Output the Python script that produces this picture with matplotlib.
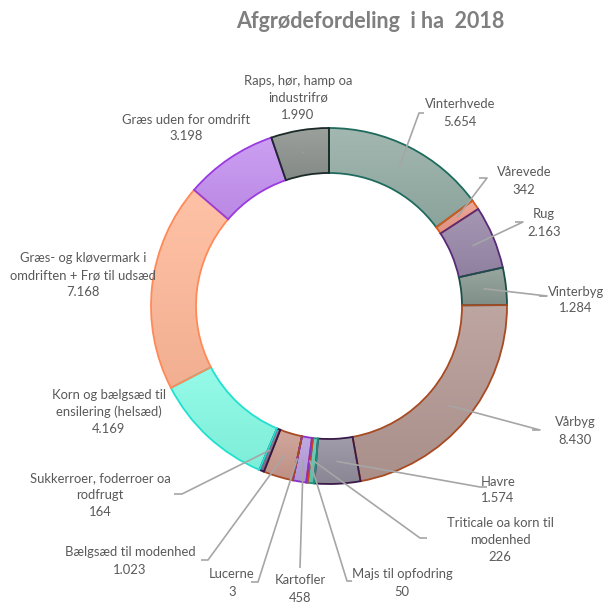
import matplotlib
matplotlib.use("Agg")
import matplotlib.pyplot as plt
import matplotlib.colors as mcolors
import numpy as np

title = "Afgrødefordeling  i ha  2018"
categories = [
    "Vinterhvede", "Vårevede", "Rug", "Vinterbyg", "Vårbyg", "Havre",
    "Triticale oa korn til\nmodenhed", "Majs til opfodring", "Kartofler",
    "Lucerne", "Bælgsæd til modenhed", "Sukkerroer, foderroer oa\nrodfrugt",
    "Korn og bælgsæd til\nensilering (helsæd)",
    "Græs- og kløvermark i\nomdriften + Frø til udsæd",
    "Græs uden for omdrift", "Raps, hør, hamp oa\nindustrifrø",
]
values = [5654, 342, 2163, 1284, 8430, 1574, 226, 50, 458, 3, 1023, 164,
          4169, 7168, 3198, 1990]
value_labels = ["5.654", "342", "2.163", "1.284", "8.430", "1.574", "226", "50",
                "458", "3", "1.023", "164", "4.169", "7.168", "3.198", "1.990"]

fills = ["#93aca4", "#eb9a88", "#9787a8", "#879890", "#b39792", "#918d9c",
         "#62c6b0", "#e8703a", "#b59cdc", "#c0a0e0", "#c9988c", "#7e7090",
         "#84fae4", "#ffb898", "#c490f0", "#8b918c"]
edges = ["#1e6b5e", "#d85a1c", "#5a2a78", "#1e4e48", "#a84a22", "#3a1a48",
         "#1e8e7a", "#d84010", "#8a30c8", "#8a30c8", "#a84a22", "#301848",
         "#20e0d0", "#ff8a58", "#9a3ae0", "#1a2a28"]

# label layout (pixel coordinates, y from top): text centre, leader-end, hook length
label_pos = [
    (460, 113, (419, 113), -5), (524, 181, (487, 178), 8), (544, 223, (523, 222), 8),
    (576, 300, (547, 296), 8), (575, 431, (540, 430), 8), (498, 490, (480, 487), -7),
    (500, 540, (420, 538), -7), (402, 583, (347, 581), -5), (300, 589, (300, 568), 0),
    (232, 583, (258, 582), 7), (130, 561, (208, 560), 7), (100, 495, (182, 494), 8),
    (109, 412, None, 0), (83, 275, None, 0), (186, 128, None, 0),
    (298, 98, (303, 152), 0),
]

W, H = 604, 602
fig = plt.figure(figsize=(W / 100, H / 100), dpi=100)
ax = fig.add_axes([0, 0, 1, 1])

cx, cy, R, ring = 329, H - 306, 178, 45
wedges, _ = ax.pie(values, startangle=90, counterclock=False, center=(cx, cy),
                   radius=R, colors=fills,
                   wedgeprops=dict(width=ring, linewidth=1.3), frame=True)
ax.set_xlim(0, W)
ax.set_ylim(0, H)
ax.set_aspect("equal")
ax.axis("off")

for w, fc, ec in zip(wedges, fills, edges):
    w.set_edgecolor(ec)
    w.set_zorder(3)
    bb = w.get_path().get_extents()
    rgb = np.array(mcolors.to_rgb(fc))
    light = rgb + (1 - rgb) * 0.14
    dark = rgb * 0.95
    t = np.linspace(0, 1, 64)[:, None]
    grad = light[None, :] * (1 - t) + dark[None, :] * t
    img = ax.imshow(grad[:, None, :], extent=(bb.x0, bb.x1, bb.y0, bb.y1),
                    origin="upper", aspect="auto", zorder=2, interpolation="bilinear")
    img.set_clip_path(w)
    w.set_facecolor("none")
ax.set_xlim(0, W)
ax.set_ylim(0, H)

total = sum(values)
cum = np.cumsum([0] + values[:-1])
txtc = "#595959"
font = "Lato"
for i, (cat, vl) in enumerate(zip(categories, value_labels)):
    tx, ty, lend, hook = label_pos[i]
    ax.text(tx, H - ty, f"{cat}\n{vl}", ha="center", va="center", fontsize=9.4,
            color=txtc, family=font, linespacing=1.5, zorder=5)
    if lend is not None:
        frac = (cum[i] + values[i] / 2) / total
        ang = np.deg2rad(90 - 360 * frac)
        rm = R - ring / 2
        px, py = cx + rm * np.cos(ang), cy + rm * np.sin(ang)
        lx, ly = lend
        xs = [px, lx, lx - hook] if hook else [px, lx]
        ys = [py, H - ly, H - ly] if hook else [py, H - ly]
        ax.plot(xs, ys, color="#a6a6a6", lw=1.2, solid_capstyle="butt", zorder=4)

ax.text(370, H - 22, title, ha="center", va="center", fontsize=15.5,
        fontweight="bold", color="#7f7f7f", family=font)

fig.savefig("out.png", dpi=100)
